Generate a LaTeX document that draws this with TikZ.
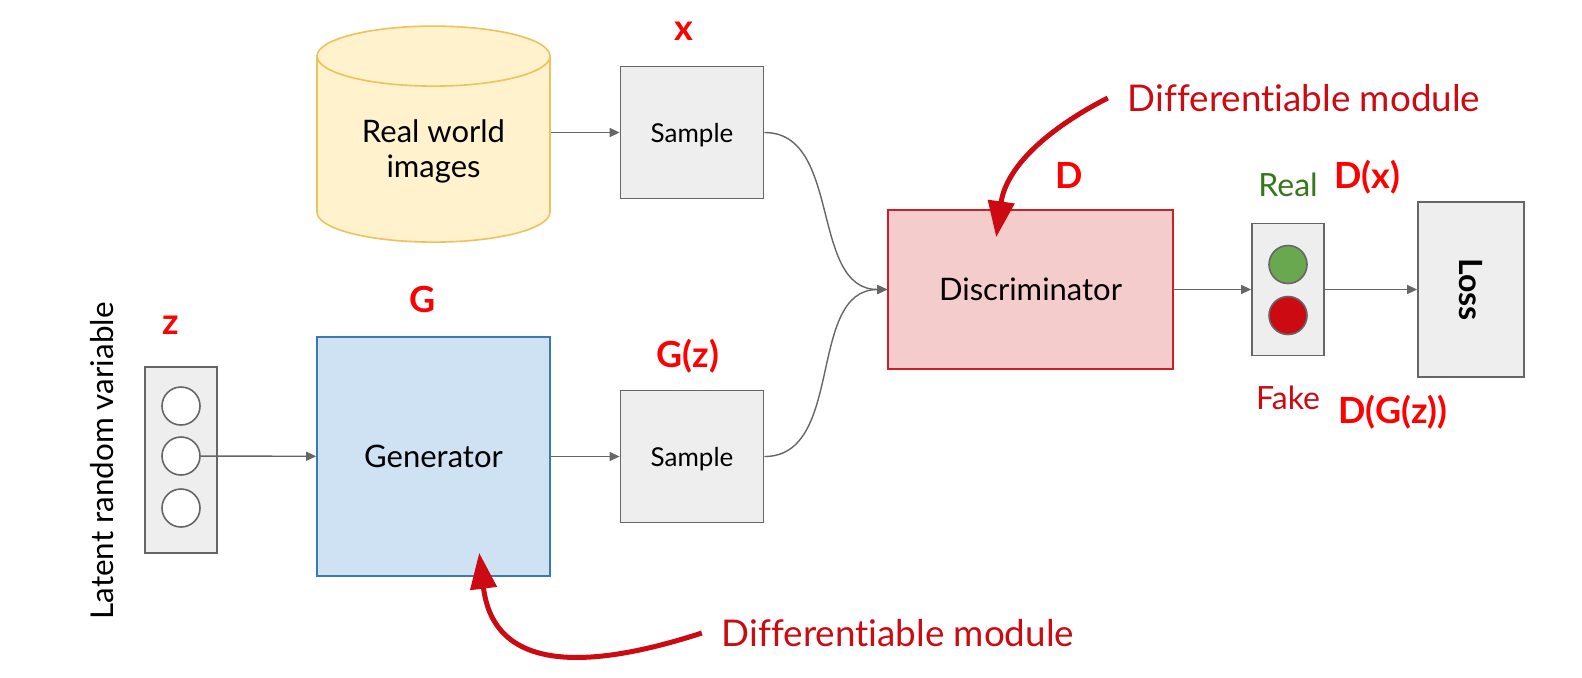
\documentclass[tikz,border=0pt]{standalone}
\usepackage{fontspec}
\setmainfont[Ligatures=CommonOff]{Lato}
\usetikzlibrary{arrows.meta,shapes.geometric}
\definecolor{boxgray}{HTML}{EEEEEE}
\definecolor{linegray}{HTML}{666666}
\definecolor{genfill}{HTML}{CFE2F3}
\definecolor{genline}{HTML}{3D78AF}
\definecolor{discfill}{HTML}{F4CCCC}
\definecolor{discline}{HTML}{CC1F28}
\definecolor{cylfill}{HTML}{FFF2CC}
\definecolor{cylline}{HTML}{EDC25A}
\definecolor{darkred}{HTML}{CC0A12}
\definecolor{okgreen}{HTML}{6AA84F}
\definecolor{realgreen}{HTML}{38761D}
\tikzset{
  graybox/.style={draw=linegray, fill=boxgray, rectangle, line width=0.9pt, inner sep=0pt},
  samplebox/.style={graybox, font=\fontsize{13}{15}\selectfont, text depth=0pt, minimum width=71.5pt, minimum height=66pt},
  dotc/.style={draw=linegray, fill=white, circle, line width=0.8pt, minimum size=19pt, inner sep=0pt},
  flow/.style={-{Triangle[length=5pt,width=4.5pt]}, draw=linegray, line width=0.7pt},
  bigflow/.style={-{Triangle[length=18pt,width=13pt]}, draw=darkred, line width=2.5pt},
  redlabel/.style={text=red, font=\fontsize{18}{20}\selectfont\bfseries},
  difflabel/.style={text=darkred, font=\fontsize{18.4}{20}\selectfont},
  boxtext/.style={font=\fontsize{15.5}{17.5}\selectfont}
}
\begin{document}
\begin{tikzpicture}[node distance=60pt]
    \useasboundingbox (0,0) rectangle (791pt,-338.5pt);

    \node[graybox, minimum width=36pt, minimum height=93pt] (zbox) at (90.5pt,-230pt) {};
    \node[dotc] (z2) at ([yshift=2pt]zbox.center) {};
    \node[dotc, node distance=25pt, above of=z2] (z1) {};
    \node[dotc, node distance=26pt, below of=z2] (z3) {};
    \node[left of=zbox, xshift=20.5pt, yshift=-0.5pt, rotate=90, font=\fontsize{15.7}{20}\selectfont] (latent) {Latent random variable};
    \node[redlabel, above of=zbox, xshift=-5pt, yshift=7.5pt] (zlab) {z};

    \node[draw=genline, fill=genfill, rectangle, line width=0.8pt, boxtext, minimum width=116.5pt, minimum height=119.5pt, right of=zbox, xshift=66.25pt, yshift=1.75pt] (gen) {Generator};
    \node[redlabel, above of=gen, xshift=-5.25pt, yshift=18.75pt] (glab) {G};
    \node[draw=cylline, fill=cylfill, cylinder, cylinder uses custom fill, cylinder end fill=cylfill, cylinder body fill=cylfill, shape border rotate=90, shape aspect=4.5, line width=0.8pt, minimum width=116.5pt, minimum height=108pt, above of=gen, yshift=91pt] (cyl) {};
    \node[boxtext, align=center, above of=gen, yshift=92.5pt] (cyltext) {Real world\\images};

    \node[samplebox, right of=gen, xshift=69.25pt] (sampleb) {Sample};
    \node[samplebox, above of=sampleb, yshift=102pt] (samplea) {Sample};
    \node[redlabel, above of=samplea, xshift=-4pt, yshift=-9.25pt] (xlab) {x};
    \node[redlabel, above of=sampleb, xshift=-2pt, yshift=-9.75pt] (gzlab) {G(z)};

    \node[draw=discline, fill=discfill, rectangle, line width=0.8pt, boxtext, minimum width=142.5pt, minimum height=79.5pt, right of=sampleb, xshift=109.25pt, yshift=83.5pt] (disc) {Discriminator};
    \node[redlabel, above of=disc, xshift=19.25pt, yshift=-2.75pt] (dlab) {D};

    \node[graybox, minimum width=36pt, minimum height=66pt, right of=disc, xshift=68.75pt] (light) {};
    \node[dotc, fill=okgreen, node distance=12.5pt, above of=light] (realdot) {};
    \node[dotc, fill=darkred, node distance=13pt, below of=light] (fakedot) {};
    \node[graybox, minimum width=53pt, minimum height=87.5pt, right of=light, xshift=31.5pt] (loss) {};
    \node[rotate=-90, font=\fontsize{16}{18}\selectfont\bfseries] (losstext) at (loss) {Loss};

    \node[above of=light, yshift=-7.5pt, text=realgreen, font=\fontsize{16}{18}\selectfont] (real) {Real};
    \node[below of=light, yshift=6pt, text=darkred, font=\fontsize{16}{18}\selectfont] (fake) {Fake};
    \node[redlabel, above of=light, xshift=39.5pt, yshift=-4pt] (dxlab) {D(x)};
    \node[redlabel, below of=light, xshift=52.5pt, yshift=-1.5pt] (dgzlab) {D(G(z))};

    \node[difflabel, above of=disc, xshift=136.75pt, yshift=35.75pt] (difftop) {Differentiable module};
    \node[difflabel, below of=gen, xshift=232.25pt, yshift=-28.25pt] (diffbot) {Differentiable module};

    % free ends of the two red arrows
    \coordinate (topstart) at ([xshift=-6.5pt]difftop.west);
    \coordinate (toptip) at ([xshift=54.5pt,yshift=-14pt]disc.north west);
    \coordinate (botstart) at ([xshift=-6.5pt]diffbot.west);
    \coordinate (bottip) at ([xshift=81.5pt,yshift=12pt]gen.south west);

    \draw[flow] (z2) -- (gen);
    \draw[flow] (cyl.east |- samplea) -- (samplea);
    \draw[flow] (gen) -- (sampleb);
    \draw[flow] (samplea.east) to[out=0,in=180] (disc.west);
    \draw[flow] (sampleb.east) to[out=0,in=180] (disc.west);
    \draw[flow] (disc) -- (light);
    \draw[flow] (light) -- (loss);

    \draw[bigflow] (topstart) to[out=207,in=82] (toptip);
    \draw[bigflow] (botstart) to[out=198,in=-83,looseness=1.3] (bottip);
\end{tikzpicture}
\end{document}
